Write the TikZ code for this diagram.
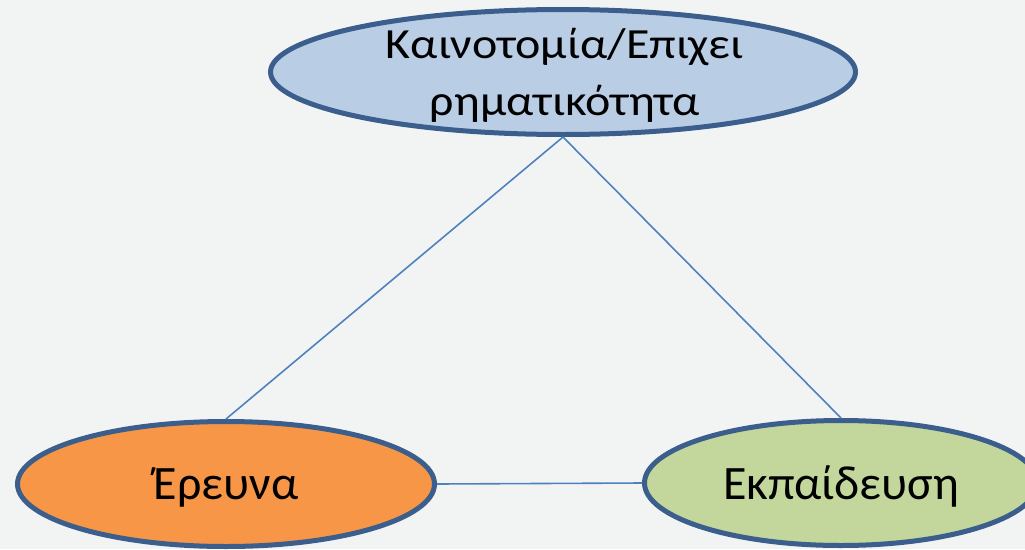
\documentclass[tikz,border=0pt]{standalone}
\usepackage{fontspec}
\usepackage{graphicx}
\setmainfont{Carlito}
\usetikzlibrary{shapes.geometric}
\definecolor{bgc}{HTML}{F2F4F4}
\definecolor{bord}{HTML}{3B5E8C}
\definecolor{conn}{HTML}{4F81BD}
\definecolor{topfill}{HTML}{B9CDE5}
\definecolor{leftfill}{HTML}{F79646}
\definecolor{rightfill}{HTML}{C3D69B}
\tikzset{
  oval/.style={ellipse, draw=bord, line width=5pt, inner sep=0pt, text=black,
    font=\fontsize{48}{57}\selectfont},
  lbl/.style={inner sep=0pt, anchor=base, text=black, font=\fontsize{43}{52}\selectfont},
  link/.style={draw=conn, line width=1.6pt}
}
\newcommand{\widetext}[1]{\scalebox{1.116}[1]{#1}}
\begin{document}
\begin{tikzpicture}[x=1pt,y=-1pt]
\useasboundingbox (0,0) rectangle (1025,549);
\clip (0,0) rectangle (1025,549);
\fill[bgc] (0,0) rectangle (1025,549);
\node[oval, fill=topfill, minimum width=585pt, minimum height=125pt] (top) at (563,72) {};
\node[lbl] (toptext1) at (565,58) {\widetext{Καινοτομία/Επιχει}};
\node[lbl] (toptext2) at (565,115) {\widetext{ρηματικότητα}};
\node[oval, fill=leftfill, minimum width=417pt, minimum height=125pt,
      text height=40pt, text depth=10pt] (left) at (226,484) {Έρευνα};
\node[oval, fill=rightfill, minimum width=393pt, minimum height=125pt,
      text height=42pt, text depth=10pt] (right) at (841,483) {Εκπαίδευση};
\draw[link] (top.south) -- (left.north);
\draw[link] (top.south) -- (right.north);
\draw[link] (left.east) -- (right.west);
\end{tikzpicture}
\end{document}
